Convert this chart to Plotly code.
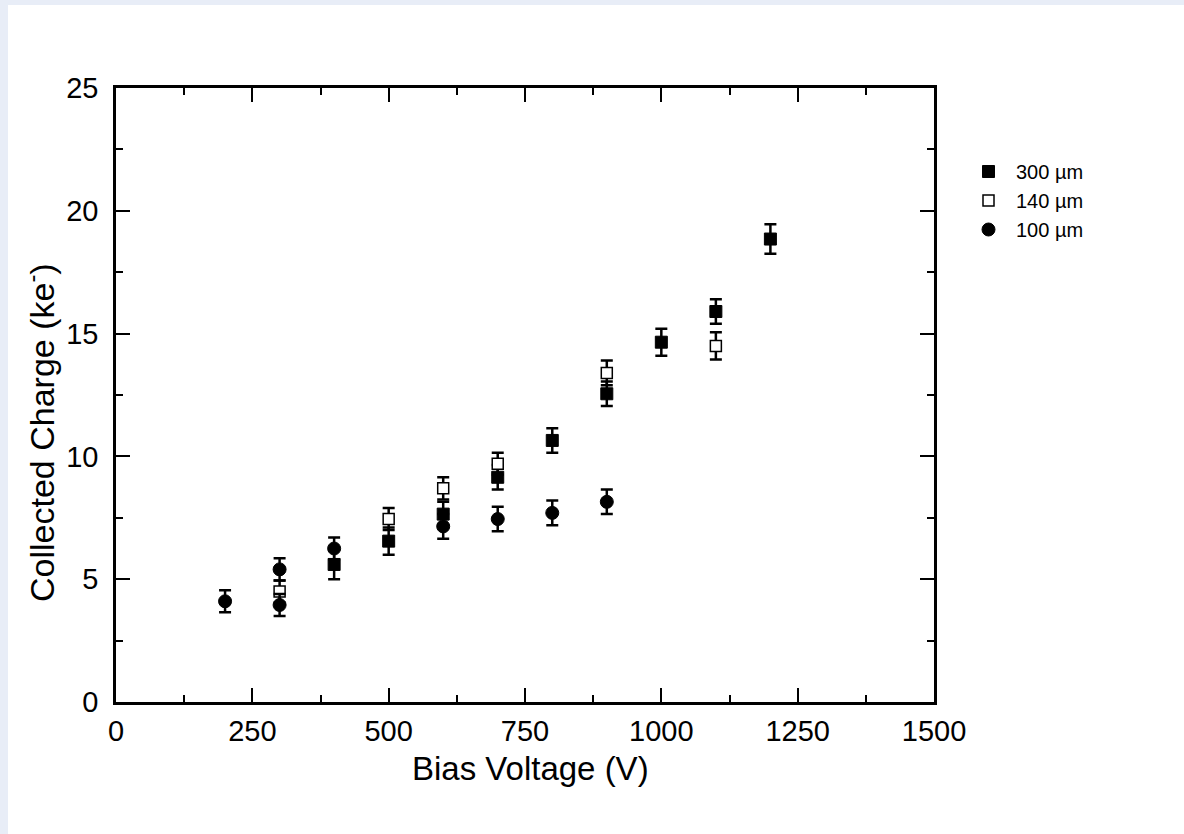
import plotly.graph_objects as go

# ---- data ----
x_300 = [400, 500, 600, 700, 800, 900, 1000, 1100, 1200]
y_300 = [5.6, 6.55, 7.65, 9.15, 10.65, 12.55, 14.65, 15.9, 18.85]
e_300 = [0.6, 0.55, 0.5, 0.5, 0.5, 0.5, 0.55, 0.5, 0.6]

x_140 = [300, 500, 600, 700, 900, 1100]
y_140 = [4.5, 7.45, 8.7, 9.7, 13.4, 14.5]
e_140 = [0.45, 0.45, 0.45, 0.45, 0.5, 0.55]

x_100 = [200, 300, 300, 400, 600, 700, 800, 900]
y_100 = [4.1, 5.4, 3.95, 6.25, 7.15, 7.45, 7.7, 8.15]
e_100 = [0.45, 0.45, 0.45, 0.45, 0.5, 0.5, 0.5, 0.5]

x_ticks = [0, 250, 500, 750, 1000, 1250, 1500]
y_ticks = [0, 5, 10, 15, 20, 25]

FONT = "Liberation Sans, Arial, sans-serif"
OFF_X, OFF_Y = 8, 5           # page offset (light-blue frame)
W, H = 1184 - OFF_X, 834 - OFF_Y
ML, MT = 116 - OFF_X, 88 - OFF_Y
PW, PH = 818, 614
MR = W - ML - PW
MB = H - MT - PH

def px_x(p):   # picture x pixel -> paper coordinate
    return (p - 116) / PW

def px_y(p):   # picture y pixel -> paper coordinate
    return 1 - (p - 88) / PH

def err(arr):
    return dict(type="data", array=arr, visible=True, color="black",
                thickness=2.5, width=6)

fig = go.Figure()
fig.add_trace(go.Scatter(
    x=x_300, y=y_300, error_y=err(e_300), mode="markers", name="300 µm",
    marker=dict(symbol="square", size=12, color="black",
                line=dict(color="black", width=1))))
fig.add_trace(go.Scatter(
    x=x_140, y=y_140, error_y=err(e_140), mode="markers", name="140 µm",
    marker=dict(symbol="square", size=11, color="white",
                line=dict(color="black", width=1.5))))
fig.add_trace(go.Scatter(
    x=x_100, y=y_100, error_y=err(e_100), mode="markers", name="100 µm",
    marker=dict(symbol="circle", size=13, color="black",
                line=dict(color="black", width=1))))

axis_common = dict(
    showline=True, linecolor="black", linewidth=2.5, mirror="allticks",
    ticks="inside", ticklen=14, tickwidth=2, tickcolor="black",
    showgrid=False, zeroline=False,
    tickfont=dict(family=FONT, size=29, color="black"),
)

fig.update_xaxes(
    range=[0, 1500], tickvals=x_ticks, ticktext=[str(v) for v in x_ticks],
    minor=dict(ticks="inside", ticklen=7, tickwidth=2, tickcolor="black", dtick=125, tick0=0),
    ticklabelstandoff=1,
    **axis_common)
fig.update_yaxes(
    range=[0, 25], tickvals=y_ticks, ticktext=[str(v) for v in y_ticks],
    minor=dict(ticks="inside", ticklen=7, tickwidth=2, tickcolor="black", dtick=2.5, tick0=0),
    ticklabelstandoff=9,
    **axis_common)

# axis titles as annotations (placed where the reference shows them)
fig.add_annotation(text="Bias Voltage (V)", xref="paper", yref="paper",
                   x=px_x(530), y=px_y(768), xanchor="center", yanchor="middle",
                   showarrow=False, font=dict(family=FONT, size=33, color="black"))
fig.add_annotation(text="Collected Charge (ke<sup>-</sup>)", xref="paper", yref="paper",
                   x=px_x(39), y=px_y(433), xanchor="center", yanchor="middle",
                   textangle=-90, showarrow=False,
                   font=dict(family=FONT, size=34, color="black"))

fig.update_layout(
    width=W, height=H,
    margin=dict(l=ML, r=MR, t=MT, b=MB, pad=0),
    paper_bgcolor="white", plot_bgcolor="white",
    font=dict(family=FONT, color="black"),
    legend=dict(x=px_x(961), xanchor="left",
                y=px_y(152), yanchor="top",
                font=dict(family=FONT, size=20, color="black"),
                bgcolor="rgba(0,0,0,0)", borderwidth=0, tracegroupgap=0,
                itemwidth=45),
    showlegend=True,
)

post = (
    "document.body.style.margin='%dpx 0 0 %dpx';"
    "document.body.style.background='#e8edf7';"
    "document.documentElement.style.background='#e8edf7';"
    "document.documentElement.style.overflow='hidden';"
) % (OFF_Y, OFF_X)

fig.write_html("out.html", post_script=post)
